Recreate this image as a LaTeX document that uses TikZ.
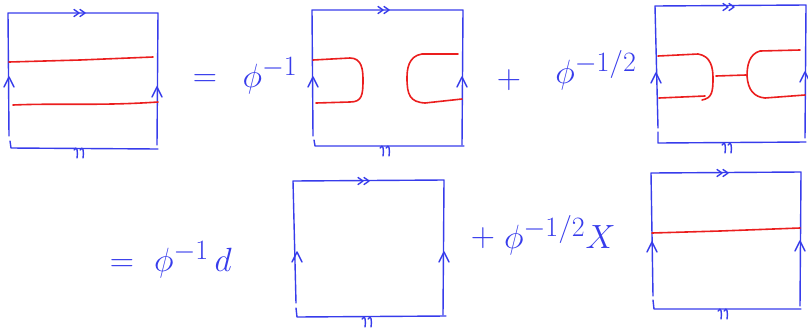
\documentclass[tikz,border=0pt]{standalone}
\usepackage{graphicx}
\definecolor{pen}{RGB}{55,60,235}
\definecolor{ink}{RGB}{235,30,30}
\tikzset{
  bl/.style={draw=pen, line width=1.4pt, line cap=round, line join=round},
  rd/.style={draw=ink, line width=1.6pt, line cap=round, line join=round},
  lab/.style={text=pen, font=\Huge, inner sep=0pt}
}
\newcommand\hwmath[1]{\scalebox{1.35}{$#1$}}
\newcommand\upmk[2]{\draw[bl] (#1-5,#2+10) -- (#1,#2) -- (#1+5,#2+10);}
\newcommand\rtmk[2]{\draw[bl] (#1-8,#2-3.5) -- (#1-3,#2) -- (#1-8,#2+3.5) (#1-2,#2-3.5) -- (#1+3,#2) -- (#1-2,#2+3.5);}
\newcommand\btmk[2]{\draw[bl] (#1-6,#2+1) .. controls (#1-3,#2-4) and (#1-2,#2+2) .. (#1-3,#2+9) (#1,#2+1) .. controls (#1+3,#2-4) and (#1+4,#2+2) .. (#1+3,#2+9);}
\begin{document}
\begin{tikzpicture}[x=1pt,y=-1pt]
\useasboundingbox (0,0) rectangle (808,333);
% square 1
\draw[bl] (9,136) -- (8,13) -- (158,13) -- (157,145);
\draw[bl] (10,141) -- (11,148) -- (158,149);
\upmk{9}{77} \upmk{157}{87}
\rtmk{82}{13} \btmk{80}{149}
\draw[rd] (9,62) -- (80,60) -- (153,57);
\draw[rd] (13,105) .. controls (60,103) and (100,106) .. (158,102);
% labels row 1
\node[lab] (eq1) at (205,81) {\hwmath{=}};
\node[lab] (c1) at (270,76) {\hwmath{\phi^{-1}}};
% square 2
\draw[bl] (313,136) -- (312,10) -- (463,10) -- (462,145);
\draw[bl] (314,140) -- (315,146) -- (464,146);
\upmk{313}{77} \upmk{462}{77}
\rtmk{386}{10} \btmk{386}{147}
\draw[rd] (313,60) -- (350,58) .. controls (362,58) and (363,70) .. (363,80) .. controls (363,95) and (362,102) .. (350,102) -- (316,103);
\draw[rd] (458,54) -- (422,54) .. controls (408,56) and (407,70) .. (407,78) .. controls (407,95) and (410,102) .. (425,103) -- (462,99);
\node[lab] (pl1) at (509,80) {\hwmath{+}};
\node[lab] (c2) at (596,70) {\hwmath{\phi^{-1/2}}};
% square 3
\draw[bl] (658,128) -- (655,6) -- (806,5) -- (805,138);
\draw[bl] (658,132) -- (658,143) -- (806,142);
\upmk{656}{73} \upmk{805}{72}
\rtmk{731}{7} \btmk{728}{144}
\draw[rd] (658,56) -- (698,54) .. controls (711,56) and (713,68) .. (713,78) .. controls (713,92) and (712,98) .. (702,100);
\draw[rd] (659,98) -- (705,96);
\draw[rd] (716,76) -- (746,75);
\draw[rd] (800,50) -- (760,51) .. controls (749,54) and (747,66) .. (747,76) .. controls (748,90) and (754,97) .. (765,98) -- (805,95);
% row 2
\node[lab] (eq2) at (122,266) {\hwmath{=}};
\node[lab, anchor=west] (c3) at (154,260) {\hwmath{\phi^{-1}\,d}};
% square 4
\draw[bl] (296,303) -- (293,181) -- (444,180) -- (443,315);
\draw[bl] (296,308) -- (297,317) -- (446,316);
\upmk{297}{252} \upmk{444}{252}
\rtmk{366}{181} \btmk{368}{318}
\node[lab] (pl2) at (483,238) {\hwmath{+}};
\node[lab, anchor=west] (c4) at (504,235) {\hwmath{\phi^{-1/2}X}};
% square 5
\draw[bl] (653,296) -- (651,173) -- (801,172) -- (800,306);
\draw[bl] (653,300) -- (654,309) -- (801,309);
\upmk{652}{242} \upmk{800}{241}
\rtmk{725}{173} \btmk{724}{310}
\draw[rd] (652,233) -- (720,231) -- (800,228);
\end{tikzpicture}
\end{document}
